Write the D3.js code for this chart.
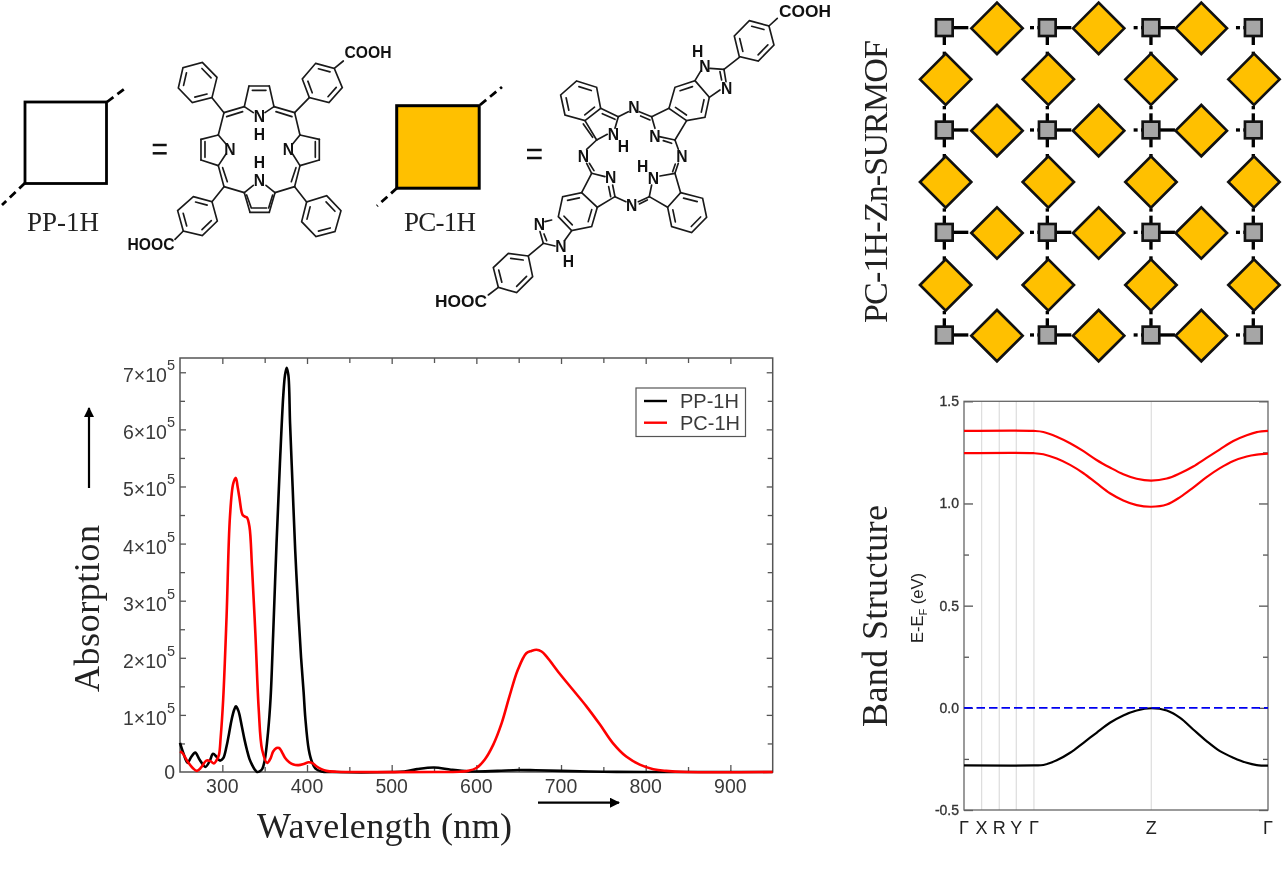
<!DOCTYPE html>
<html><head><meta charset="utf-8">
<script src="https://cdn.jsdelivr.net/npm/d3@7"></script>
<style>
html,body{margin:0;padding:0;background:#fff}
svg{display:block;filter:blur(0.35px)}
text{font-family:"Liberation Sans",Arial,sans-serif}
.serif{font-family:"Liberation Serif","Times New Roman",serif;fill:#222}
.axis path{display:none}
.axis line{stroke:#555;stroke-width:1.3}
.mol line,.mol polygon{stroke:#1a1a1a;stroke-width:5;fill:none;stroke-linecap:round}
.mol text{font-weight:bold;fill:#111;text-anchor:middle}
</style></head><body>
<svg id="c" width="1283" height="869" viewBox="0 0 1283 869"></svg>
<script>
// ---------- absorption spectrum (wavelength nm, absorption in 1e5) ----------
const ppWave=[250,254,259,263,268,273,280,285,289,293,297,301,305,308,311,314,316,319,323,326,329,332,335,338,341,344,347,350,354,357,360,364,368,372,374,376,378,380,383,386,390,393,396,398,402,406,410,417,430,500,515,530,550,570,590,600,625,650,670,700,750,800,950];
const ppAbs=[0.51,0.33,0.16,0.26,0.34,0.22,0.09,0.19,0.32,0.27,0.2,0.24,0.45,0.68,0.92,1.09,1.15,1.07,0.8,0.58,0.39,0.23,0.13,0.05,0.0,0.01,0.05,0.2,0.7,1.3,2.4,4.0,5.4,6.6,6.95,7.08,6.95,6.1,5.0,3.9,2.75,2.0,1.4,0.95,0.4,0.17,0.06,0.01,0,0,0.01,0.05,0.08,0.04,0.01,0.01,0.02,0.035,0.03,0.02,0.005,0,0];
const pcWave=[250,253,256,260,265,270,275,281,286,290,293,296,298,301,305,309,313,316,318,320,324,327,329,332,335,339,343,347,353,357,360,364,367,370,374,379,384,390,396,402,407,411,417,423,435,450,550,580,590,600,610,620,630,639,649,659,665,671,677,683,698,714,730,746,761,777,793,809,824,848,950];
const pcAbs=[0.36,0.33,0.26,0.16,0.07,0.02,0.08,0.2,0.19,0.15,0.2,0.3,0.6,1.27,2.72,4.47,5.06,5.15,5.0,4.82,4.5,4.47,4.46,4.3,3.6,2.43,1.09,0.39,0.16,0.24,0.36,0.42,0.42,0.36,0.25,0.17,0.13,0.12,0.14,0.17,0.15,0.1,0.05,0.02,0.005,0,0,0.005,0.02,0.07,0.22,0.48,0.86,1.32,1.79,2.08,2.12,2.14,2.11,2.02,1.73,1.44,1.15,0.83,0.51,0.27,0.13,0.05,0.02,0,0];
const waveMajor=[300,400,500,600,700,800,900];
const waveMinor=[350,450,550,650,750,850];
const absMajor=[1,2,3,4,5,6,7];
const absMinor=[0.5,1.5,2.5,3.5,4.5,5.5,6.5];
const legendNames=["PP-1H","PC-1H"];

// ---------- band structure ----------
const kTicks=[0,0.058,0.116,0.172,0.23,0.616,1];
const kLabels=["Γ","X","R","Y","Γ","Z","Γ"];
const kPath=[0,0.23,0.261,0.305,0.349,0.393,0.436,0.48,0.524,0.568,0.616,0.667,0.711,0.754,0.798,0.842,0.886,0.93,0.963,1];
const bandUpper=[1.355,1.355,1.35,1.327,1.295,1.256,1.213,1.176,1.143,1.121,1.112,1.122,1.148,1.181,1.223,1.265,1.306,1.334,1.349,1.355];
const bandLower=[1.246,1.246,1.241,1.22,1.189,1.148,1.099,1.05,1.015,0.992,0.984,0.995,1.031,1.078,1.129,1.173,1.208,1.23,1.239,1.244];
const bandValence=[-0.282,-0.282,-0.28,-0.257,-0.22,-0.171,-0.122,-0.073,-0.037,-0.013,-0.002,-0.013,-0.049,-0.106,-0.163,-0.212,-0.244,-0.269,-0.28,-0.283];
const energyMajor=[-0.5,0,0.5,1,1.5];
const energyMinor=[-0.25,0.25,0.75,1.25];

const svg=d3.select("#c");
const ink="#3a3a3a";

// ===== absorption panel =====
const xA=d3.scaleLinear().domain([250,950]).range([180,772.7]);
const yA=d3.scaleLinear().domain([0,7.25]).range([772,358]);
const A=svg.append("g");
function ax(g,gen,vals,size,tr){g.append("g").attr("class","axis").attr("transform",tr).call(gen.tickValues(vals).tickSize(size).tickFormat(""));}
ax(A,d3.axisBottom(xA),waveMajor,-7,"translate(0,772)");
ax(A,d3.axisBottom(xA),waveMinor,-5,"translate(0,772)");
ax(A,d3.axisTop(xA),waveMajor,-6,"translate(0,358)");
ax(A,d3.axisTop(xA),waveMinor,-5,"translate(0,358)");
ax(A,d3.axisLeft(yA),absMajor,-6,"translate(180,0)");
ax(A,d3.axisLeft(yA),absMinor,-5,"translate(180,0)");
ax(A,d3.axisRight(yA),absMajor,-6,"translate(772.7,0)");
ax(A,d3.axisRight(yA),absMinor,-5,"translate(772.7,0)");
A.append("rect").attr("x",180).attr("y",358).attr("width",592.7).attr("height",414).attr("fill","none").attr("stroke","#555").attr("stroke-width",1.5);
const lineA=d3.line().x(d=>xA(d[0])).y(d=>yA(d[1])).curve(d3.curveCatmullRom.alpha(0.5));
A.append("path").attr("d",lineA(d3.zip(ppWave,ppAbs))).attr("fill","none").attr("stroke","#000").attr("stroke-width",2.6);
A.append("path").attr("d",lineA(d3.zip(pcWave,pcAbs))).attr("fill","none").attr("stroke","#f00").attr("stroke-width",2.6);
A.selectAll(".xl").data(waveMajor).join("text").attr("x",d=>xA(d)).attr("y",792.5).attr("text-anchor","middle").attr("font-size",19.5).attr("fill",ink).text(d=>d);
absMajor.forEach(v=>{
  const t=A.append("text").attr("x",175).attr("y",yA(v)+10).attr("text-anchor","end").attr("font-size",19.5).attr("fill",ink);
  t.append("tspan").text(v+"×10");
  t.append("tspan").attr("dy",-12).attr("font-size",14.5).text("5");
});
A.append("text").attr("x",175).attr("y",778.5).attr("text-anchor","end").attr("font-size",19.5).attr("fill",ink).text("0");
// legend
A.append("rect").attr("x",636).attr("y",388).attr("width",109.5).attr("height",48.5).attr("fill","#fff").attr("stroke","#555").attr("stroke-width",1.2);
legendNames.forEach((n,i)=>{
  const ly=401+i*21.7;
  A.append("line").attr("x1",644).attr("x2",667).attr("y1",ly).attr("y2",ly).attr("stroke",i?"#f00":"#000").attr("stroke-width",2.4);
  A.append("text").attr("x",680).attr("y",ly+7).attr("font-size",20).attr("fill",ink).text(n);
});
A.append("text").attr("class","serif").attr("x",257).attr("y",838).attr("font-size",36).attr("textLength",255).text("Wavelength (nm)");
A.append("text").attr("class","serif").attr("transform","translate(98.5,692) rotate(-90)").attr("font-size",36).attr("textLength",167).text("Absorption");
// arrows
const defs=svg.append("defs");
defs.append("marker").attr("id","ah").attr("viewBox","0 0 10 10").attr("refX",9).attr("refY",5).attr("markerWidth",10).attr("markerHeight",10).attr("markerUnits","userSpaceOnUse").attr("orient","auto").append("path").attr("d","M0,0L10,5L0,10Z").attr("fill","#000");
A.append("line").attr("x1",89).attr("y1",488).attr("x2",89).attr("y2",408).attr("stroke","#000").attr("stroke-width",2.2).attr("marker-end","url(#ah)");
A.append("line").attr("x1",538).attr("y1",802.7).attr("x2",619).attr("y2",802.7).attr("stroke","#000").attr("stroke-width",2.2).attr("marker-end","url(#ah)");

// ===== band panel =====
const xB=d3.scaleLinear().domain([0,1]).range([964,1268]);
const yB=d3.scaleLinear().domain([-0.5,1.5]).range([810,401.3]);
const B=svg.append("g");
B.selectAll(".vg").data(kTicks.slice(1,-1)).join("line").attr("x1",d=>xB(d)).attr("x2",d=>xB(d)).attr("y1",401).attr("y2",810).attr("stroke","#ddd").attr("stroke-width",1.2);
ax(B,d3.axisLeft(yB),energyMajor,-9,"translate(964,0)");
ax(B,d3.axisLeft(yB),energyMinor,-5,"translate(964,0)");
ax(B,d3.axisRight(yB),energyMajor,-9,"translate(1268,0)");
ax(B,d3.axisRight(yB),energyMinor,-5,"translate(1268,0)");
B.append("rect").attr("x",964).attr("y",401.3).attr("width",304).attr("height",408.7).attr("fill","none").attr("stroke","#666").attr("stroke-width",1.3);
const lineB=d3.line().x(d=>xB(d[0])).y(d=>yB(d[1])).curve(d3.curveCatmullRom.alpha(0.5));
[[bandUpper,"#f00"],[bandLower,"#f00"],[bandValence,"#000"]].forEach(([b,c])=>{
  B.append("path").attr("d",lineB(d3.zip(kPath,b))).attr("fill","none").attr("stroke",c).attr("stroke-width",2.2);
});
B.append("line").attr("x1",xB(0)).attr("x2",xB(1)).attr("y1",yB(0)).attr("y2",yB(0)).attr("stroke","#0000f0").attr("stroke-width",1.8).attr("stroke-dasharray","8.5 4");
energyMajor.forEach(v=>{
  B.append("text").attr("x",959).attr("y",yB(v)+5).attr("text-anchor","end").attr("font-size",14).attr("fill","#333").attr("stroke","#333").attr("stroke-width",.35).text(d3.format(".1f")(v).replace("−","-"));
});
kTicks.forEach((k,i)=>{
  B.append("text").attr("x",xB(k)).attr("y",834).attr("text-anchor","middle").attr("font-size",18).attr("fill","#222").text(kLabels[i]);
});
const eLab=B.append("text").attr("transform","translate(923,643) rotate(-90)").attr("font-size",16.5).attr("fill","#222");
eLab.append("tspan").text("E-E");
eLab.append("tspan").attr("dy",4).attr("font-size",11).text("F");
eLab.append("tspan").attr("dy",-4).text(" (eV)");
B.append("text").attr("class","serif").attr("transform","translate(886.5,727) rotate(-90)").attr("font-size",36).attr("textLength",222).text("Band Structure");

// ===== PP / PC legend squares =====
const S=svg.append("g");
function unit(x,y,s,fill,sw){
  S.append("rect").attr("x",x).attr("y",y).attr("width",s).attr("height",s).attr("fill",fill).attr("stroke","#000").attr("stroke-width",sw);
}
function dash(x1,y1,x2,y2){S.append("line").attr("x1",x1).attr("y1",y1).attr("x2",x2).attr("y2",y2).attr("stroke","#000").attr("stroke-width",2.8).attr("stroke-dasharray","8 5");}
unit(25,102,81.5,"#fff",2.8);dash(107,102,127,87);dash(25,183,2,205);
unit(396.7,105.7,82.5,"#FFC000",3);dash(480,105,502,87);dash(397,188,377,206);
S.append("text").attr("class","serif").attr("x",27).attr("y",231).attr("font-size",27).attr("textLength",72).text("PP-1H");
S.append("text").attr("class","serif").attr("x",404).attr("y",231).attr("font-size",27).attr("textLength",72).text("PC-1H");
[[152.7,166.7,145],[152.7,166.7,153.3],[527,541.7,150],[527,541.7,158]].forEach(e=>{
  S.append("line").attr("x1",e[0]).attr("x2",e[1]).attr("y1",e[2]).attr("y2",e[2]).attr("stroke","#111").attr("stroke-width",2.5);
});

// ===== molecules (structural drawing, in 3x-crop units) =====
function ring(g,v,off){
  g.append("polygon").attr("points",v.map(p=>p.join(",")).join(" "));
  const cx=d3.mean(v,p=>p[0]),cy=d3.mean(v,p=>p[1]);
  for(let i=off;i<6;i+=2){
    const a=v[i],b=v[(i+1)%6],f=.74;
    const ax=cx+(a[0]-cx)*f,ay=cy+(a[1]-cy)*f,bx=cx+(b[0]-cx)*f,by=cy+(b[1]-cy)*f;
    g.append("line").attr("x1",ax+(bx-ax)*.08).attr("y1",ay+(by-ay)*.08).attr("x2",bx-(bx-ax)*.08).attr("y2",by-(by-ay)*.08);
  }
}
function bonds(g,l){l.forEach(b=>g.append("line").attr("x1",b[0]).attr("y1",b[1]).attr("x2",b[2]).attr("y2",b[3]));}
function labels(g,l,fs){l.forEach(t=>g.append("text").attr("x",t[0]).attr("y",t[1]).attr("font-size",fs).text(t[2]));}

const pp=svg.append("g").attr("class","mol").attr("transform","scale(0.3333)");
bonds(pp,[[733,320,747,258],[747,258,808,258],[808,258,822,320],[733,320,760,338],[822,320,795,338],[757,271,798,271],
[672,338,733,320],[680,350,728,335],[822,320,884,338],[828,335,876,350],
[672,338,655,405],[655,405,603,418],[603,418,603,480],[615,425,615,472],[603,480,655,497],[655,405,678,432],[655,497,678,462],
[655,497,672,560],[668,503,682,545],[672,560,733,578],
[733,578,750,637],[750,637,808,637],[808,637,825,578],[733,578,760,556],[825,578,798,556],[757,624,800,624],[740,585,754,624],[818,585,806,624],
[825,578,884,560],[884,338,900,405],[900,405,958,418],[958,418,958,480],[946,425,946,472],[958,480,900,497],[900,405,878,432],[900,497,878,462],
[900,497,884,560],[888,503,874,545],
[636,293,672,338],[928,293,884,338],[1003,205,1030,183],[636,605,672,560],[550,693,525,718],[920,606,884,560]]);
ring(pp,[[607,187],[651,232],[636,293],[577,308],[535,264],[549,203]],0);
ring(pp,[[947,190],[1003,205],[1027,263],[987,308],[928,293],[907,237]],0);
ring(pp,[[580,590],[636,605],[652,663],[607,707],[550,693],[533,632]],0);
ring(pp,[[980,587],[1023,632],[1005,695],[948,710],[905,665],[920,606]],0);
labels(pp,[[778,367,"N"],[778,420,"H"],[690,465,"N"],[865,465,"N"],[778,505,"H"],[778,557,"N"],[1104,173,"COOH"],[453,750,"HOOC"]],47);

const pc=svg.append("g").attr("class","mol").attr("transform","translate(370,0) scale(0.3333)");
bonds(pc,[[692,325,745,350],[697,341,735,358],[745,350,735,385],[712,403,680,420],[680,420,645,362],[668,412,640,372],
[745,350,775,335],[845,350,808,335],[840,360,812,348],
[845,350,855,385],[868,410,915,420],[880,422,905,430],[915,420,950,362],[897,325,845,350],
[975,242,993,212],[1020,205,1062,208],[1062,208,1068,245],[1050,215,1055,240],[1050,270,1018,292],[1062,208,1108,172],[1197,78,1222,55],
[915,420,925,448],[915,520,925,490],[908,515,916,492],
[915,520,870,528],[845,555,838,590],[838,590,893,622],[932,578,915,520],
[838,590,805,605],[832,600,808,612],[735,590,768,605],
[735,590,728,555],[722,590,716,560],[705,530,665,520],[665,520,635,578],[682,622,735,590],
[680,420,650,448],[665,520,650,490],[672,512,658,490],
[545,660,525,665],[510,695,520,730],[522,702,530,722],[520,730,555,738],[585,720,605,692],[520,730,475,768],[385,862,355,885]]);
ring(pc,[[620,243],[680,262],[692,325],[645,362],[585,345],[572,285]],0);
ring(pc,[[975,242],[1018,292],[1005,352],[950,362],[897,325],[915,262]],1);
ring(pc,[[1138,62],[1197,78],[1212,135],[1165,183],[1108,170],[1093,108]],0);
ring(pc,[[932,578],[998,595],[1010,652],[965,698],[905,680],[893,622]],0);
ring(pc,[[635,578],[682,622],[665,680],[605,692],[565,650],[578,590]],1);
ring(pc,[[475,768],[415,760],[370,803],[385,862],[440,878],[488,830]],0);
labels(pc,[[792,338,"N"],[730,420,"N"],[760,455,"H"],[855,425,"N"],[983,172,"H"],[1005,216,"N"],[1070,282,"N"],[936,487,"N"],[640,485,"N"],[850,552,"N"],[818,515,"H"],[722,550,"N"],[785,632,"N"],[508,690,"N"],[573,757,"N"],[595,802,"H"]],47);
labels(pc,[[1305,50,"COOH"],[273,920,"HOOC"]],52);

// ===== SURMOF lattice =====
const latticeX=[283,592,903,1210];
const latticeY=[83,390,697,1005];
const diamondRowX=[441,746,1054];
const diamondColX=[287,595,903,1212];
const diamondColY=[238,546,855];
const L=svg.append("g").attr("transform","translate(850,0) scale(0.3333)");
function conn(x1,y1,x2,y2){L.append("line").attr("x1",x1).attr("y1",y1).attr("x2",x2).attr("y2",y2).attr("stroke","#000").attr("stroke-width",10);}
latticeY.forEach((y,r)=>latticeX.forEach((x,c)=>{
  if(c<3)conn(x,y,x+72,y);
  if(c>0){conn(x-52,y,x-40,y);conn(x-30,y,x,y);}
  if(r<3){conn(x,y,x,y+52);conn(x,y+72,x,y+85);}
  if(r>0){conn(x,y,x,y-50);conn(x,y-72,x,y-62);}
}));
const diamond=(cx,cy)=>{const s=d3.scaleLinear().domain([-1,1]).range([-77,77]);
  L.append("path").attr("d",`M${cx+s(-1)},${cy}L${cx},${cy+s(-1)}L${cx+s(1)},${cy}L${cx},${cy+s(1)}Z`).attr("fill","#FFC000").attr("stroke","#111").attr("stroke-width",8);};
latticeY.forEach(y=>diamondRowX.forEach(x=>diamond(x,y+2)));
diamondColY.forEach(y=>diamondColX.forEach(x=>diamond(x,y)));
latticeY.forEach(y=>latticeX.forEach(x=>{
  L.append("rect").attr("x",x-25).attr("y",y-25).attr("width",50).attr("height",50).attr("fill","#A6A6A6").attr("stroke","#111").attr("stroke-width",8);
}));
svg.append("text").attr("class","serif").attr("transform","translate(886.5,323) rotate(-90)").attr("font-size",34).attr("textLength",283).text("PC-1H-Zn-SURMOF");
</script>
</body></html>
